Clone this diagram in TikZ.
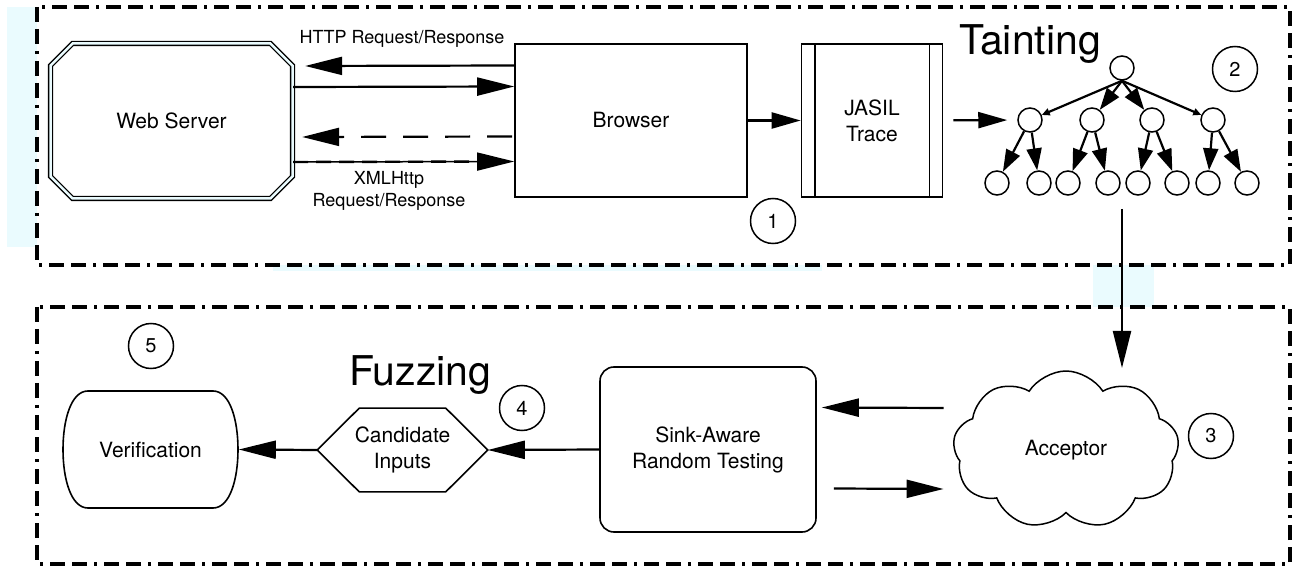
\documentclass[tikz,border=0pt]{standalone}
\usepackage{fontspec}
\setmainfont{TeX Gyre Heros}
\usetikzlibrary{arrows.meta,shapes.misc,shapes.symbols}
\definecolor{haze}{RGB}{234,251,254}

\begin{document}
\begin{tikzpicture}[x=1pt,y=-1pt,
  dashframe/.style={line width=3.6pt, dash pattern=on 15pt off 7pt on 15pt off 7pt on 3pt off 7pt},
  procbox/.style={draw, line width=1.6pt, inner sep=0pt, align=center, font=\fontsize{21}{26}\selectfont},
  numcirc/.style={draw, circle, line width=1.5pt, minimum size=45pt, inner sep=0pt, font=\fontsize{20}{24}\selectfont},
  treenode/.style={draw, circle, line width=1.5pt, minimum size=24pt, inner sep=0pt},
  arrbig/.style={line width=2.2pt, -{Triangle[length=37pt,width=18pt]}},
  arrmid/.style={line width=2.2pt, -{Triangle[length=29pt,width=16pt]}},
  arrtree/.style={line width=2.2pt, -{Triangle[length=22pt,width=15pt]}},
  arrfine/.style={line width=2.2pt, -{Triangle[length=8pt,width=7pt]}},
  edgelbl/.style={inner sep=0pt, align=center, font=\fontsize{18}{22}\selectfont},
  bigtitle/.style={inner sep=0pt, anchor=base west, font=\fontsize{41}{48}\selectfont}
]
\useasboundingbox (0,0) rectangle (1294,569);

% faint background tints
\fill[haze] (7,7) rectangle (37,247);
\fill[haze] (273,265) rectangle (822,271);
\fill[haze] (1093,265) rectangle (1154,307);

% stage frames
\draw[dashframe] (37,7) rectangle (1290,265);
\draw[dashframe] (37,307) rectangle (1290,564);

% ---- tainting stage ----
\node[draw, chamfered rectangle, chamfered rectangle xsep=14pt, chamfered rectangle ysep=14pt,
      double=haze, double distance=2.5pt, line width=1.3pt, minimum width=242pt, minimum height=155pt,
      inner sep=0pt, font=\fontsize{21}{26}\selectfont] (web) at (171.5,121) {Web Server};
\node[procbox, minimum width=232pt, minimum height=153pt] (browser) at (631,120.5) {Browser};
\node[procbox, minimum width=141pt, minimum height=153pt] (jasil) at (872,120.5) {JASIL\\Trace};
\draw[line width=1.6pt] ([xshift=14pt]jasil.north west) -- ([xshift=14pt]jasil.south west);
\draw[line width=1.6pt] ([xshift=-14pt]jasil.north east) -- ([xshift=-14pt]jasil.south east);

\draw[arrbig] ([yshift=55pt]browser.west) -- ([yshift=55pt,xshift=12pt]web.east);
\draw[arrbig] ([yshift=34pt]web.east) -- ([yshift=34pt]browser.west);
\draw[arrbig, dash pattern=on 25pt off 17pt] ([yshift=-16pt,xshift=-2pt]browser.west) -- ([yshift=-16pt,xshift=9pt]web.east);
\draw[arrbig, line width=1.5pt] ([yshift=-41pt]web.east) -- ([yshift=-41pt]browser.west);
\draw[line width=2.4pt, dash pattern=on 15pt off 8pt, shorten >=30pt] ([yshift=-41pt]web.east) -- ([yshift=-41pt]browser.west);

\node[edgelbl, anchor=base] (httplbl) at (402,44) {HTTP Request/Response};
\node[edgelbl] (xmllbl) at (389,191) {XMLHttp\\Request/Response};

\node[bigtitle] (tainting) at (959,55) {Tainting};

% taint tree
\node[treenode] (r) at (1122,68) {};
\node[treenode] (a) at (1030,120) {};
\node[treenode] (b) at (1092,120) {};
\node[treenode] (c) at (1152,120) {};
\node[treenode] (d) at (1213,120) {};
\node[treenode] (a1) at (997,183) {};
\node[treenode] (a2) at (1039,183) {};
\node[treenode] (b1) at (1068,183) {};
\node[treenode] (b2) at (1108,183) {};
\node[treenode] (c1) at (1138,183) {};
\node[treenode] (c2) at (1177,183) {};
\node[treenode] (d1) at (1208,183) {};
\node[treenode] (d2) at (1247,183) {};

\draw[arrfine] (r.south) -- (a);
\draw[arrtree] (r.south) -- (b);
\draw[arrtree] (r.south) -- (c);
\draw[arrfine] (r.south) -- (d);
\foreach \p/\q in {a/a1,a/a2,b/b1,b/b2,c/c1,c/c2,d/d1,d/d2}
  \draw[arrtree] (\p) -- (\q);

\draw[arrmid] (browser) -- (jasil);
\draw[arrmid, shorten <=10pt, shorten >=10pt] (jasil) -- (a);

\node[numcirc] (n1) at (773,221) {1};
\node[numcirc] (n2) at (1235,69) {2};

% ---- fuzzing stage ----
\node[draw, cloud, cloud puffs=9, cloud puff arc=115, cloud ignores aspect, minimum width=226pt, minimum height=158pt,
      line width=1.5pt, inner sep=0pt, font=\fontsize{21}{26}\selectfont] (acc) at (1066,450) {Acceptor};
\node[procbox, rounded corners=14pt, minimum width=216pt, minimum height=165pt] (sink) at (708,449.5) {Sink-Aware\\Random Testing};
\node[procbox, draw=none, minimum width=169pt, minimum height=82pt] (cand) at (402.5,450) {Candidate\\Inputs};
\draw[line width=1.6pt] (cand.west) -- ([xshift=42pt]cand.north west) -- ([xshift=-42pt]cand.north east)
  -- (cand.east) -- ([xshift=-42pt]cand.south east) -- ([xshift=42pt]cand.south west) -- cycle;
\node[procbox, draw=none, minimum width=175pt, minimum height=117pt] (ver) at (150.5,449.5) {Verification};
\draw[line width=1.6pt] (88,391) -- (213,391) .. controls (230,391) and (238,420) .. (238,449.5)
  .. controls (238,479) and (230,508) .. (213,508) -- (88,508)
  .. controls (71,508) and (63,479) .. (63,449.5) .. controls (63,420) and (71,391) .. (88,391) -- cycle;

\coordinate (drop) at (1122,209);
\coordinate (accin) at (1122,368);
\draw[arrbig] (drop) -- (accin);
\draw[arrbig] ([xshift=-10pt,yshift=42pt]acc.west) -- ([xshift=5pt,yshift=42pt]sink.east);
\draw[arrbig] ([xshift=17pt,yshift=-39pt]sink.east) -- ([xshift=-10pt,yshift=-39pt]acc.west);
\draw[arrbig] (sink.west) -- (cand.east);
\draw[arrbig] (cand.west) -- (ver.east);

\node[bigtitle] (fuzzing) at (349,385) {Fuzzing};

\node[numcirc] (n3) at (1211,436) {3};
\node[numcirc] (n4) at (522,408) {4};
\node[numcirc] (n5) at (151,346) {5};
\end{tikzpicture}
\end{document}
